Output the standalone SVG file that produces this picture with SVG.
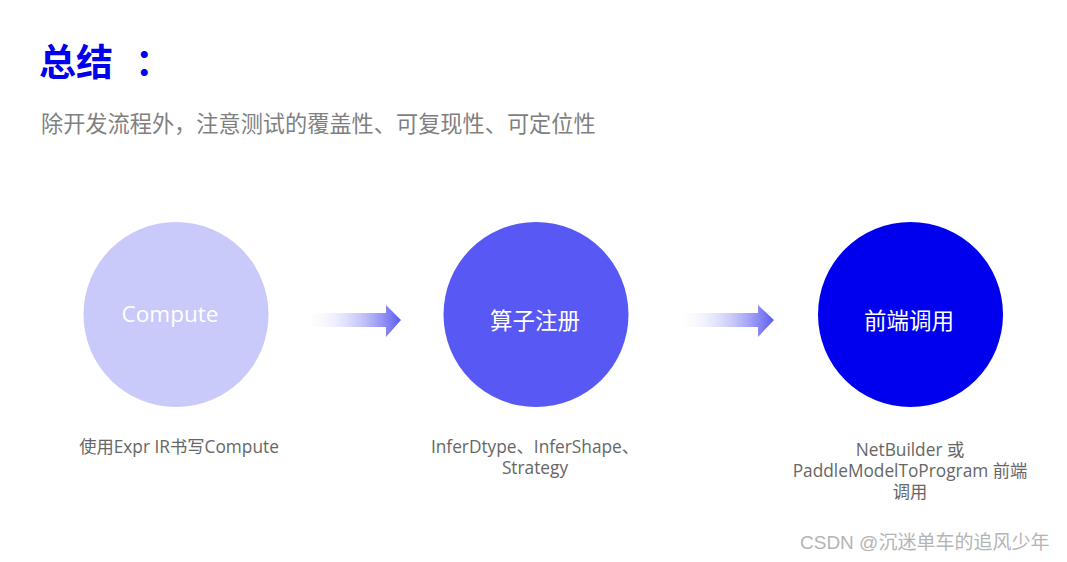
<svg xmlns="http://www.w3.org/2000/svg" width="1067" height="562" viewBox="0 0 1067 562">
<defs>
<linearGradient id="ag" x1="0" y1="0" x2="1" y2="0">
<stop offset="0" stop-color="#ffffff" stop-opacity="0"/>
<stop offset="1" stop-color="#5a5af0"/>
</linearGradient>
<style>
text{font-family:"Open Sans","Noto Sans CJK SC",sans-serif}
.cjk{font-family:"Noto Sans CJK SC",sans-serif}
.title{font-size:37px;font-weight:bold;fill:#0000ee}
.sub{font-size:22.2px;fill:#7f7f7f}
.inner{font-size:22.5px;fill:#ffffff;text-anchor:middle}
.lbl{font-size:17.3px;fill:#666666;text-anchor:middle}
.wm{font-size:19px;fill:#b4b4b4;font-family:"Liberation Sans","Noto Sans CJK SC",sans-serif}
</style>
</defs>
<rect width="1067" height="562" fill="#ffffff"/>
<text class="title cjk" x="39" y="76">总结<tspan x="135">：</tspan></text>
<text class="sub cjk" x="41" y="132">除开发流程外，注意测试的覆盖性、可复现性、可定位性</text>
<g id="connectors">
<polygon points="303,313 386,313 386,305 401,320 386,337 386,327 303,327" fill="url(#ag)"/>
<polygon points="675,313 758,313 758,305 774,320 758,337 758,327 675,327" fill="url(#ag)"/>
</g>
<g id="node-compute">
<circle cx="176" cy="314.5" r="92.5" fill="#cacafa"/>
<text class="inner" x="170" y="322">Compute</text>
<text class="lbl" x="179" y="453">使用Expr IR书写Compute</text>
</g>
<g id="node-register">
<circle cx="536" cy="314.5" r="92.5" fill="#5858f5"/>
<text class="inner cjk" x="535" y="329">算子注册</text>
<text class="lbl" x="535" y="453">InferDtype、InferShape、</text>
<text class="lbl" x="535" y="474">Strategy</text>
</g>
<g id="node-frontend">
<circle cx="910.5" cy="314.5" r="92.5" fill="#0000ee"/>
<text class="inner cjk" x="909" y="329">前端调用</text>
<text class="lbl" x="910" y="456">NetBuilder 或</text>
<text class="lbl" x="910" y="477">PaddleModelToProgram 前端</text>
<text class="lbl" x="910" y="498">调用</text>
</g>
<text class="wm" x="800" y="549">CSDN @沉迷单车的追风少年</text>
</svg>
